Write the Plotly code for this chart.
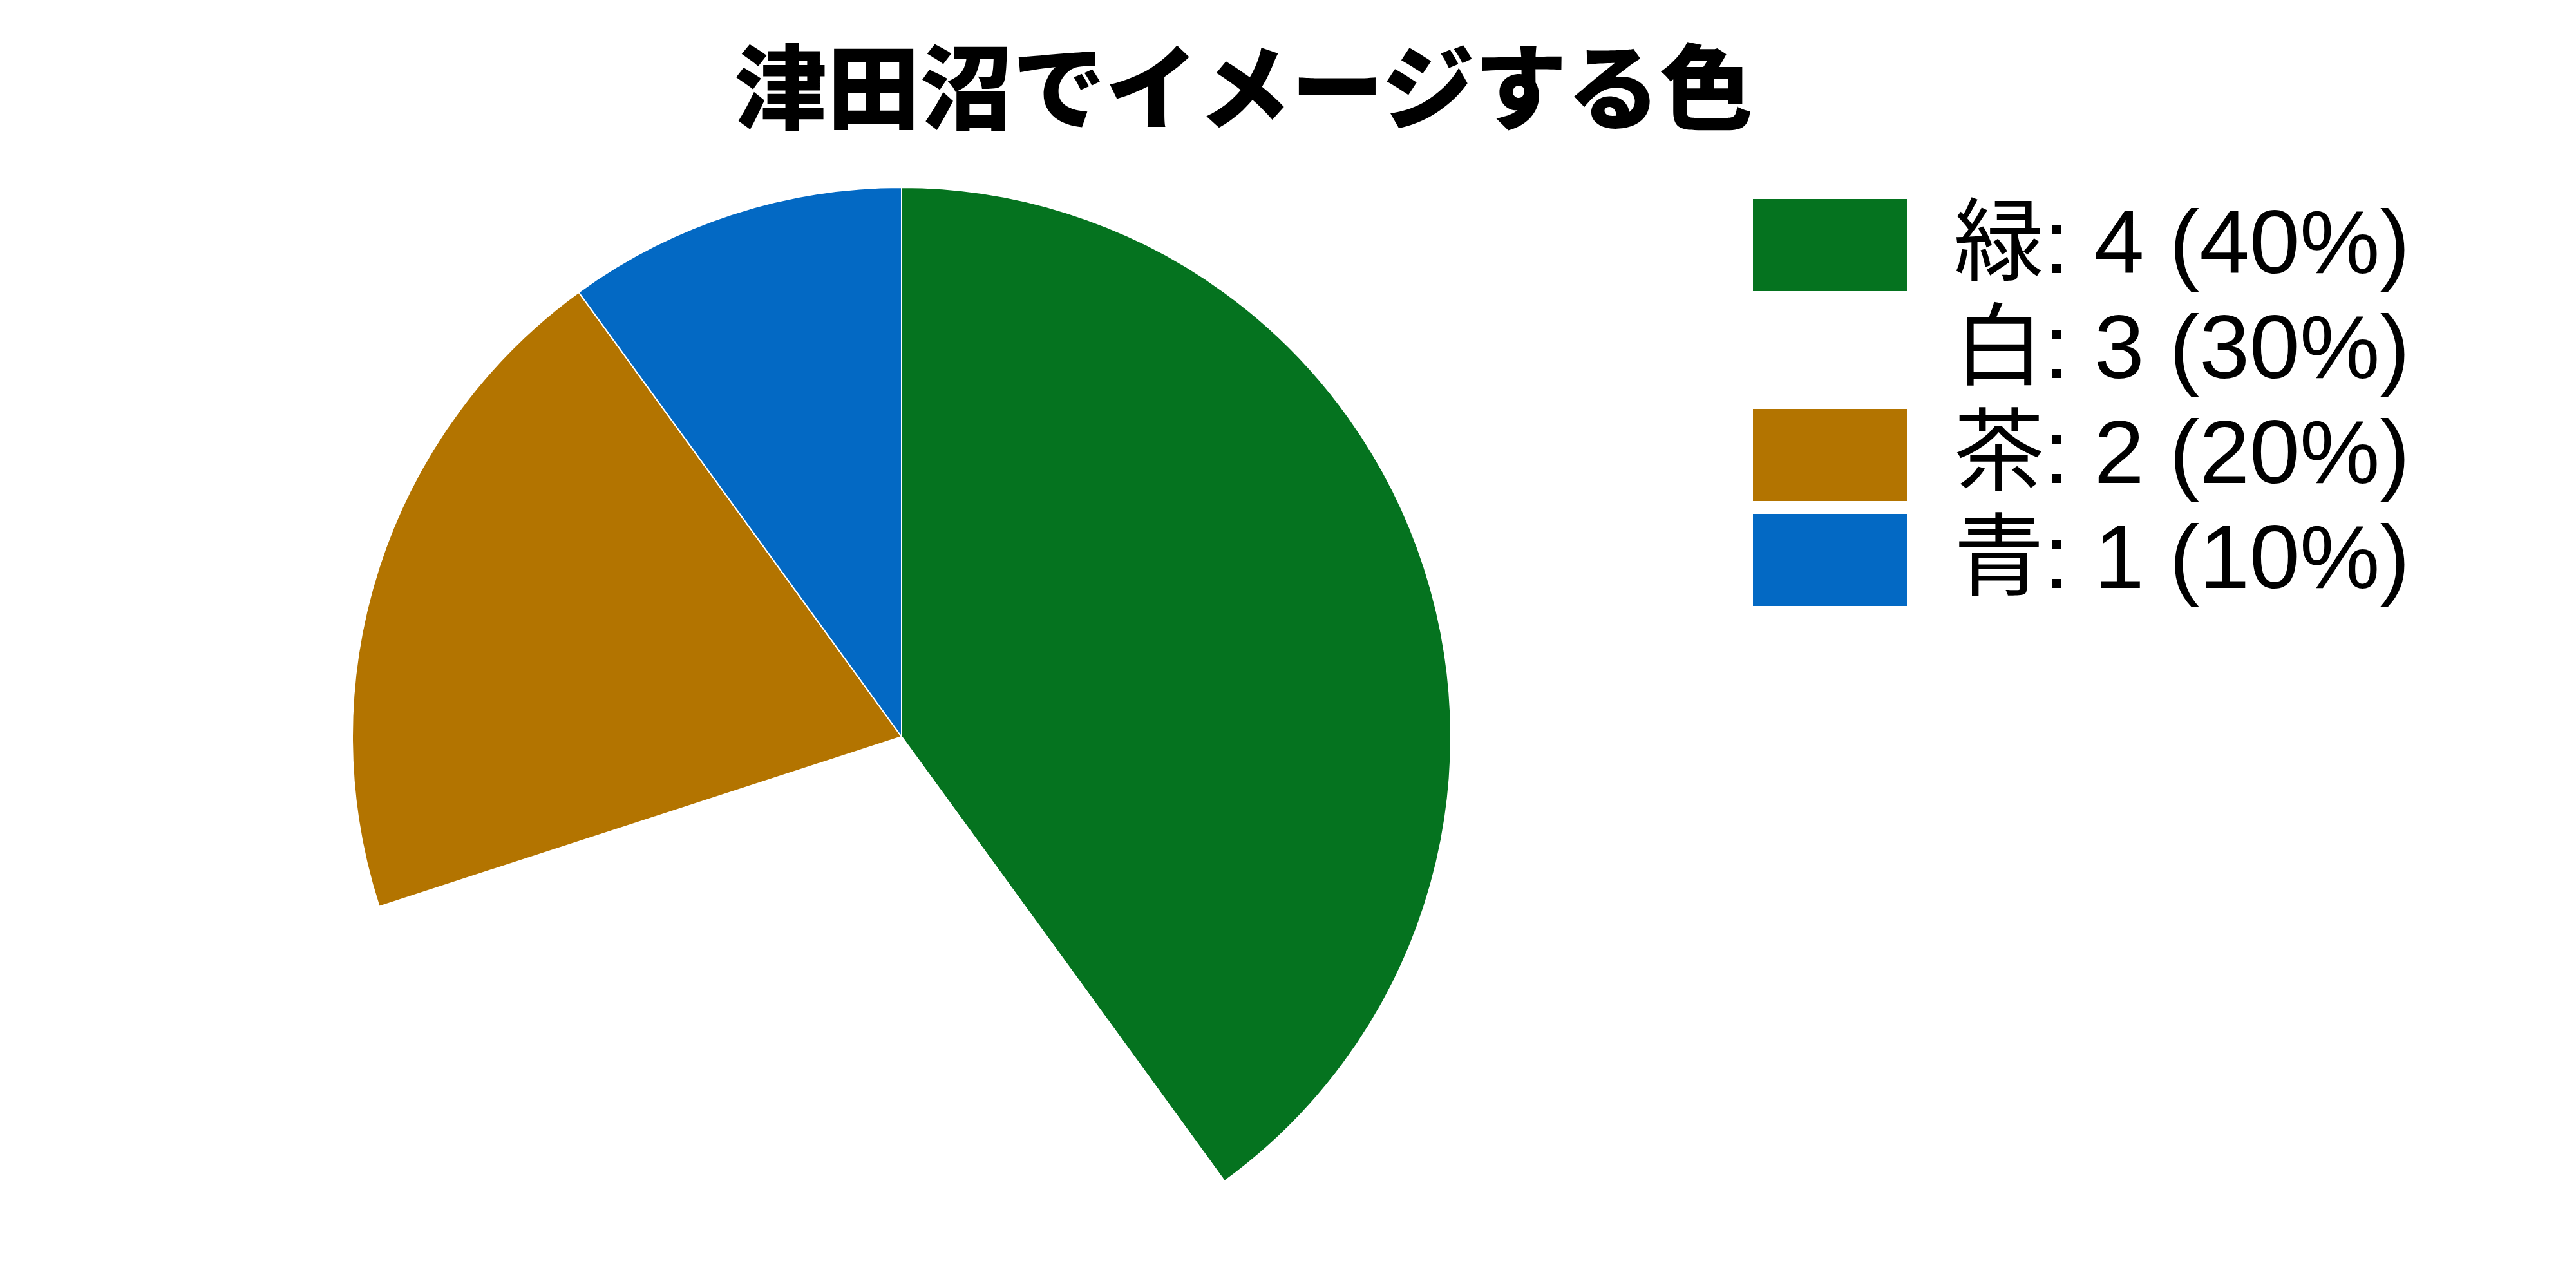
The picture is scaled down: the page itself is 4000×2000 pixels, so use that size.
import plotly.graph_objects as go

# Data
labels = ["緑", "白", "茶", "青"]
values = [4, 3, 2, 1]
colors = ["#05731f", "#ffffff", "#b37400", "#0369c4"]
title_text = "津田沼でイメージする色"

W, H = 4000, 2000
OFF = 8  # default body margin of the html page
TITLE_FONT = "Noto Sans CJK JP"
LEG_FONT = "Liberation Sans, Noto Sans CJK JP"


def px(x):
    return (x - OFF) / W


def py(y):
    return 1 - (y - OFF) / H


fig = go.Figure()
fig.add_trace(go.Pie(
    labels=labels,
    values=values,
    sort=False,
    direction="clockwise",
    rotation=0,
    textinfo="none",
    hoverinfo="label+value+percent",
    marker=dict(colors=colors, line=dict(color="#ffffff", width=2)),
    domain=dict(x=[px(547), px(2253)], y=[py(1997), py(291)]),
    showlegend=False,
))

# Custom legend (large squares + labels), built from the data arrays
total = sum(values)
shapes = []
annotations = []
row0 = 380.5    # px center of first row
step = 163      # px between rows
sq_x0, sq_x1 = 2722, 2961
sq_h = 143
for i, (lab, val, col) in enumerate(zip(labels, values, colors)):
    cy = row0 + i * step
    shapes.append(dict(
        type="rect", xref="paper", yref="paper",
        x0=px(sq_x0), x1=px(sq_x1),
        y0=py(cy + sq_h / 2), y1=py(cy - sq_h / 2),
        fillcolor=col, line=dict(width=0), layer="above",
    ))
    pct = round(val / total * 100)
    annotations.append(dict(
        xref="paper", yref="paper", x=px(3032), y=py(cy - 5),
        xanchor="left", yanchor="middle", showarrow=False,
        text=f"{lab}: {val} ({pct}%)",
        font=dict(family=LEG_FONT, size=140, color="#000000"),
    ))

fig.update_layout(
    width=W, height=H,
    margin=dict(l=0, r=0, t=0, b=0),
    paper_bgcolor="#ffffff",
    plot_bgcolor="#ffffff",
    title=dict(
        text=title_text,
        x=px(1931), xanchor="center",
        y=py(140), yanchor="middle",
        font=dict(family=TITLE_FONT, size=144, color="#000000", weight=900),
    ),
    shapes=shapes,
    annotations=annotations,
)

fig.write_html("out.html")
